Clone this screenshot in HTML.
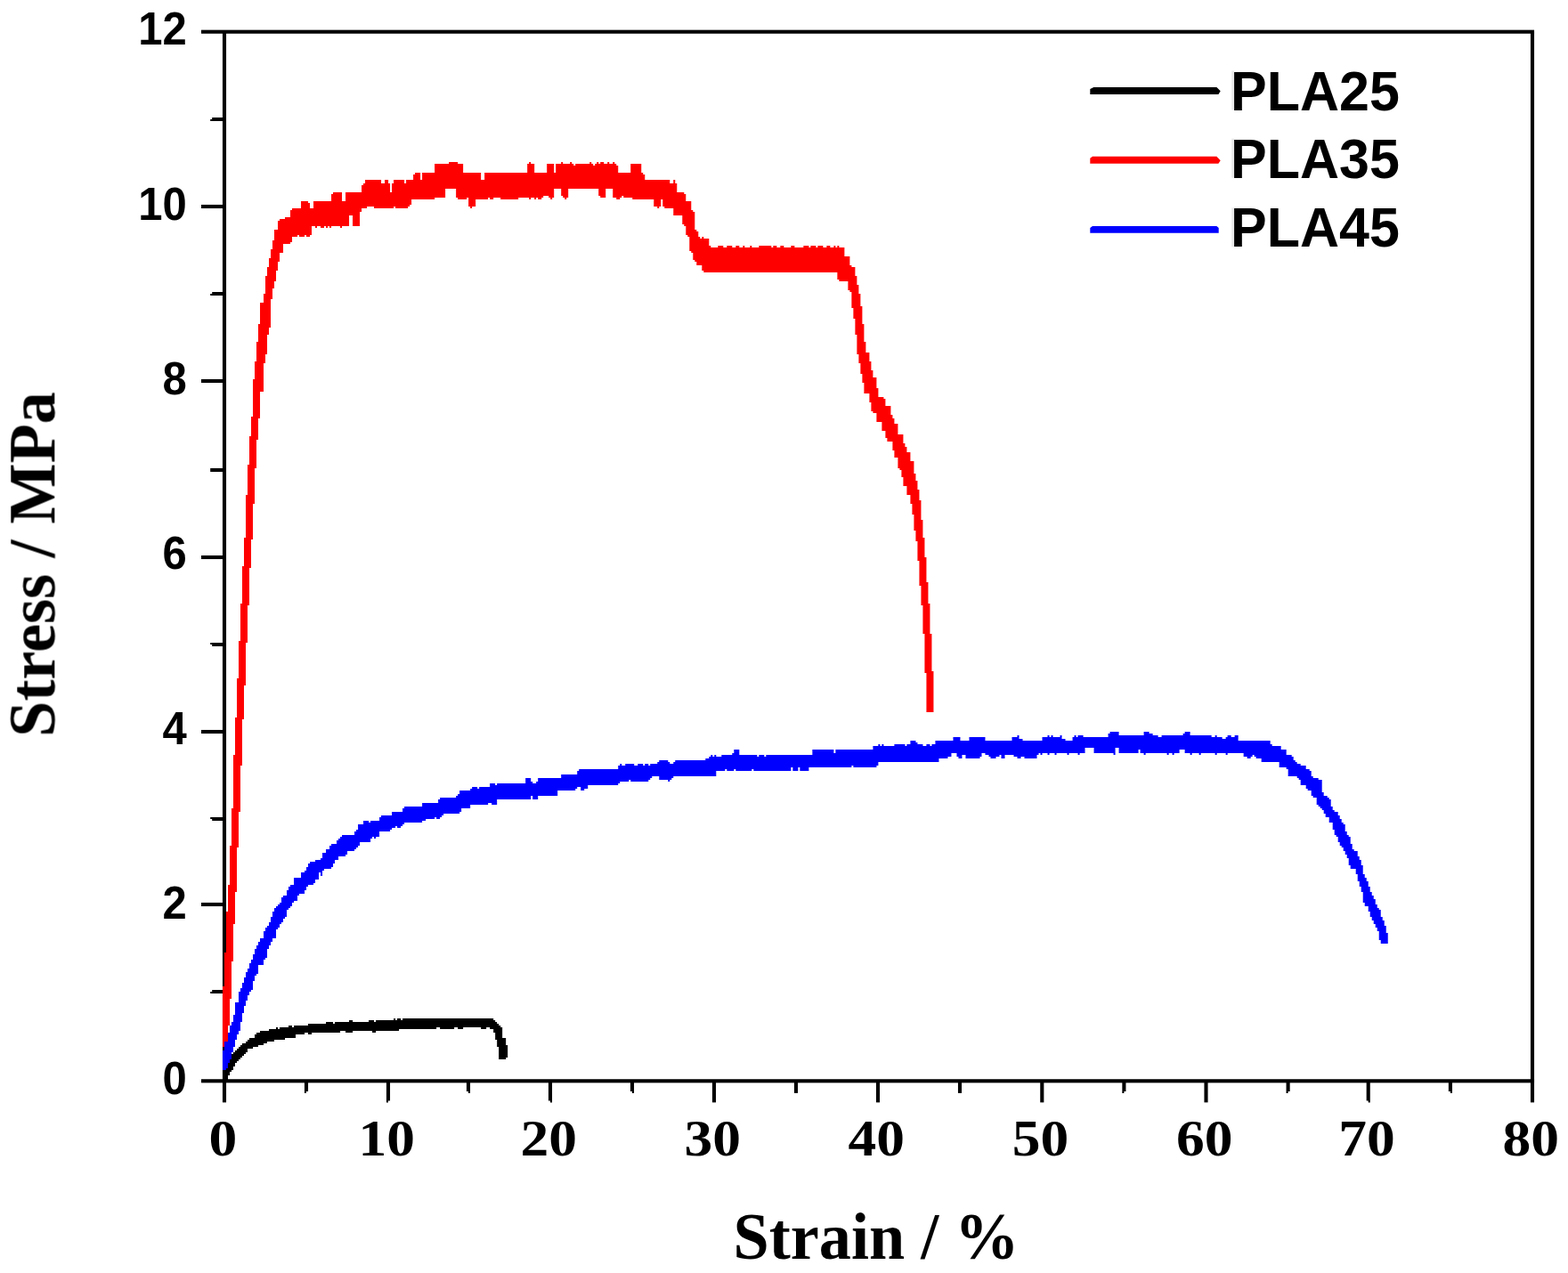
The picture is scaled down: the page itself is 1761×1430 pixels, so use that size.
<!DOCTYPE html>
<html lang="en">
<head>
<meta charset="utf-8">
<title>Stress-strain curves of PLA25, PLA35 and PLA45</title>
<style>
html,body{margin:0;padding:0;background:#fff;}
body{width:1761px;height:1430px;overflow:hidden;}
svg{display:block;}
.sb{font-family:"Liberation Sans",sans-serif;font-weight:bold;fill:#000;}
.tb{font-family:"Liberation Serif",serif;font-weight:bold;fill:#000;}
</style>
</head>
<body>
<svg width="1761" height="1430" viewBox="0 0 1761 1430" role="img" aria-label="Stress (MPa) versus strain (%) curves for PLA25, PLA35 and PLA45">
<defs>
<filter id="soft" x="0" y="0" width="1761" height="1430" filterUnits="userSpaceOnUse"><feGaussianBlur stdDeviation="0.4"/></filter>
<filter id="softtext" x="0" y="0" width="1761" height="1430" filterUnits="userSpaceOnUse"><feGaussianBlur stdDeviation="0.55"/></filter>
</defs>
<rect width="1761" height="1430" fill="#ffffff"/>
<g id="axes" filter="url(#soft)">
<rect x="249.95" y="35.70" width="4.10" height="1178.60" fill="#000"/>
<rect x="1718.95" y="35.70" width="4.10" height="1178.60" fill="#000"/>
<rect x="226.00" y="33.65" width="1497.05" height="4.10" fill="#000"/>
<rect x="226.00" y="1212.25" width="1497.05" height="4.10" fill="#000"/>
<polygon fill="#000" points="236.20,1114.00 238.20,1114.00 238.20,1111.95 251.00,1111.95 251.00,1116.05 236.20,1116.05"/>
<rect x="226.00" y="1013.95" width="25.00" height="4.10" fill="#000"/>
<polygon fill="#000" points="236.20,917.95 251.00,917.95 251.00,922.05 238.20,922.05 238.20,920.00 236.20,920.00"/>
<rect x="226.00" y="819.95" width="25.00" height="4.10" fill="#000"/>
<polygon fill="#000" points="236.20,721.95 251.00,721.95 251.00,726.05 238.20,726.05 238.20,724.00 236.20,724.00"/>
<rect x="226.00" y="623.95" width="25.00" height="4.10" fill="#000"/>
<rect x="236.20" y="525.95" width="14.80" height="4.10" fill="#000"/>
<rect x="226.00" y="425.95" width="25.00" height="4.10" fill="#000"/>
<polygon fill="#000" points="236.20,330.00 238.20,330.00 238.20,327.95 251.00,327.95 251.00,332.05 236.20,332.05"/>
<rect x="226.00" y="229.95" width="25.00" height="4.10" fill="#000"/>
<polygon fill="#000" points="236.20,134.00 238.20,134.00 238.20,131.95 251.00,131.95 251.00,136.05 236.20,136.05"/>
<rect x="249.95" y="1214.30" width="4.10" height="24.10" fill="#000"/>
<polygon fill="#000" points="341.95,1214.30 346.05,1214.30 346.05,1225.90 344.00,1225.90 344.00,1227.90 341.95,1227.90"/>
<polygon fill="#000" points="433.95,1214.30 438.05,1214.30 438.05,1236.40 436.00,1236.40 436.00,1238.40 433.95,1238.40"/>
<polygon fill="#000" points="523.95,1214.30 528.05,1214.30 528.05,1227.90 526.00,1227.90 526.00,1225.90 523.95,1225.90"/>
<polygon fill="#000" points="615.95,1214.30 620.05,1214.30 620.05,1238.40 618.00,1238.40 618.00,1236.40 615.95,1236.40"/>
<polygon fill="#000" points="707.95,1214.30 712.05,1214.30 712.05,1227.90 710.00,1227.90 710.00,1225.90 707.95,1225.90"/>
<rect x="799.95" y="1214.30" width="4.10" height="24.10" fill="#000"/>
<rect x="891.95" y="1214.30" width="4.10" height="13.60" fill="#000"/>
<rect x="983.95" y="1214.30" width="4.10" height="24.10" fill="#000"/>
<rect x="1075.95" y="1214.30" width="4.10" height="13.60" fill="#000"/>
<rect x="1168.25" y="1214.30" width="4.10" height="24.10" fill="#000"/>
<polygon fill="#000" points="1260.35,1214.30 1264.45,1214.30 1264.45,1225.90 1262.40,1225.90 1262.40,1227.90 1260.35,1227.90"/>
<rect x="1352.45" y="1214.30" width="4.10" height="24.10" fill="#000"/>
<polygon fill="#000" points="1444.55,1214.30 1448.65,1214.30 1448.65,1225.90 1446.60,1225.90 1446.60,1227.90 1444.55,1227.90"/>
<polygon fill="#000" points="1534.65,1214.30 1538.75,1214.30 1538.75,1238.40 1536.70,1238.40 1536.70,1236.40 1534.65,1236.40"/>
<polygon fill="#000" points="1626.85,1214.30 1630.95,1214.30 1630.95,1227.90 1628.90,1227.90 1628.90,1225.90 1626.85,1225.90"/>
<rect x="1718.95" y="1214.30" width="4.10" height="24.10" fill="#000"/>
</g>
<g id="curves">
<g filter="url(#soft)">
<path fill="#ff0000" d="M504.14,182H514.14V184H520.15V194H540.16V202H544.16V194H592.19V184H594.19V182H596.19V184H600.19V194H614.2V184H622.2V194H624.2V184H630.21V182H632.21V184H640.21V182H642.21V184H644.22V186H646.22V184H662.23V182H664.23V184H666.23V186H668.23V184H670.23V182H672.23V184H674.23V182H678.24V184H682.24V182H684.24V184H688.24V182H690.24V184H692.24V186H694.24V194H708.25V184H720.26V194H722.26V196H724.26V202H752.28V206H756.28V202H758.28V206H760.28V216H768.29V218H770.29V226H776.29V236H778.29V238H780.29V258H782.29V260H784.3V266H786.3V268H788.3V266H790.3V268H796.3V276H798.3V278H806.31V276H812.31V278H816.31V276H822.32V278H826.32V276H830.32V278H834.32V276H836.32V278H842.33V276H844.33V278H852.33V276H866.34V278H868.34V276H872.35V278H876.35V276H880.35V278H888.35V276H892.36V278H902.36V276H908.37V278H910.37V276H916.37V278H918.37V276H924.38V278H928.38V276H932.38V278H936.38V276H938.38V278H940.38V276H942.39V278H948.39V288H954.39V298H956.39V300H960.4V310H962.4V320H964.4V330H966.4V344H968.4V364H970.4V384H972.4V396H976.4V406H978.41V416H980.41V424H984.41V436H986.41V446H992.41V448H994.41V456H1000.42V466H1002.42V470H1004.42V476H1008.42V488H1014.43V498H1016.43V502H1018.43V508H1022.43V518H1026.43V532H1028.43V540H1030.44V550H1032.44V562H1034.44V584H1036.44V604H1038.44V626H1040.44V654H1042.44V678H1044.44V712H1046.44V754H1048.45V800H1040.44V756H1038.44V712H1036.44V680H1034.44V658H1032.44V630H1030.44V608H1028.43V596H1026.43V578H1024.43V566H1022.43V556H1018.43V546H1014.43V536H1012.42V528H1010.42V526H1008.42V514H1004.42V506H1002.42V496H996.42V492H994.41V484H990.41V474H984.41V464H980.41V462H978.41V452H976.4V442H970.4V430H968.4V420H966.4V408H964.4V398H962.4V376H960.4V358H958.39V346H956.39V328H954.39V326H952.39V316H942.39V314H940.38V306H790.3V304H788.3V298H782.29V294H780.29V292H778.29V284H776.29V282H774.29V266H772.29V264H770.29V254H768.29V252H766.29V242H756.28V234H746.27V232H744.27V224H742.27V232H740.27V234H738.27V232H734.27V224H710.25V222H700.25V220H698.25V222H696.25V224H692.24V222H688.24V212H680.24V222H674.23V220H672.23V212H638.21V222H636.21V224H634.21V222H632.21V220H630.21V212H622.2V222H620.2V224H618.2V222H616.2V220H610.2V222H608.2V224H604.19V222H602.19V224H600.19V222H596.19V224H594.19V222H582.18V224H562.17V222H554.16V224H550.16V222H548.16V224H534.15V232H530.15V234H528.15V232H526.15V222H524.15V224H514.14V222H512.14V212H500.13V222H488.13V224H462.11V230H460.11V232H458.11V234H444.1V232H442.1V234H420.09V232H412.08V234H406.08V238H404.08V254H396.07V242H392.07V254H384.07V256H382.07V254H372.06V256H370.06V254H368.06V256H366.06V254H364.06V256H360.05V254H356.05V256H354.05V254H350.05V264H348.05V266H344.05V264H342.04V266H336.04V264H334.04V266H328.04V272H326.04V274H318.03V284H314.03V294H312.03V304H310.03V316H308.02V324H306.02V336H304.02V368H302.02V376H300.02V398H298.02V408H296.02V440H292.02V470H290.01V494H288.01V526H286.01V566H284.01V606H282.01V638H280.01V680H278.01V722H276.01V770H274.01V808H272V860H270V912H268V952H266V1002H264V1038H262V1080H260V1122H258V1152H256V1170H253.99V1176H249.99V1108H251.99V1070H253.99V1024H256V994H258V950H260V908H262V848H264V806H266V762H268V720H270V678H272V636H274.01V604H276.01V556H278.01V522H280.01V490H282.01V468H284.01V426H286.01V406H288.01V384H290.01V364H292.02V340H296.02V330H298.02V310H300.02V300H302.02V290H304.02V280H306.02V270H308.02V258H312.03V248H314.03V246H320.03V244H326.04V236H328.04V234H338.04V226H346.05V228H348.05V234H352.05V226H372.06V218H374.06V216H384.07V226H388.07V216H406.08V208H408.08V206H410.08V202H428.09V206H432.1V202H436.1V206H438.1V216H440.1V206H442.1V202H454.11V206H456.11V202H464.11V196H466.11V194H472.12V202H474.12V194H488.13V184H504.14Z"/>
<path fill="#0000ff" d="M1246.56,822H1256.56V826H1284.58V822H1290.58V824H1294.59V826H1300.59V828H1304.59V826H1328.6V824H1330.61V822H1336.61V826H1360.62V828H1364.62V826H1366.63V828H1372.63V830H1376.63V828H1378.63V826H1382.64V828H1386.64V826H1390.64V832H1426.66V836H1428.66V838H1438.67V842H1444.67V848H1450.67V850H1452.67V854H1454.68V856H1456.68V858H1460.68V860H1466.68V864H1470.69V866H1472.69V872H1474.69V874H1480.69V876H1484.69V890H1486.69V894H1490.7V896H1492.7V898H1494.7V906H1496.7V910H1498.7V912H1502.7V916H1504.7V920H1506.71V924H1508.71V926H1510.71V934H1512.71V938H1514.71V940H1516.71V948H1518.71V954H1520.71V956H1524.72V962H1526.72V966H1528.72V972H1530.72V982H1532.72V986H1534.72V990H1536.72V996H1538.72V1002H1540.72V1006H1542.73V1010H1544.73V1016H1546.73V1020H1548.73V1022H1550.73V1030H1552.73V1034H1554.73V1040H1556.73V1048H1558.74V1060H1550.73V1056H1548.73V1046H1546.73V1042H1544.73V1038H1542.73V1034H1540.72V1030H1538.72V1024H1536.72V1018H1532.72V1014H1530.72V1002H1528.72V996H1526.72V990H1524.72V982H1522.71V976H1516.71V972H1514.71V964H1512.71V960H1510.71V956H1508.71V952H1506.71V950H1504.7V946H1502.7V940H1500.7V938H1498.7V932H1496.7V924H1492.7V918H1488.7V914H1486.69V910H1484.69V908H1482.69V906H1480.69V904H1478.69V896H1474.69V894H1472.69V888H1468.68V886H1466.68V882H1460.68V876H1458.68V874H1456.68V872H1446.67V864H1444.67V862H1436.67V856H1416.65V852H1410.65V850H1408.65V848H1406.65V850H1404.65V852H1400.65V850H1396.64V846H1378.63V848H1376.63V846H1366.63V848H1364.62V846H1348.62V848H1346.61V846H1338.61V848H1336.61V846H1330.61V842H1324.6V846H1318.6V848H1316.6V846H1312.6V848H1310.59V846H1286.58V848H1284.58V846H1280.58V842H1278.58V846H1256.56V840H1252.56V848H1250.56V846H1228.55V840H1218.54V846H1212.54V848H1210.54V846H1200.53V848H1198.53V846H1186.52V848H1184.52V846H1178.52V848H1176.52V846H1170.51V848H1168.51V846H1166.51V848H1164.51V852H1150.5V850H1146.5V852H1142.5V850H1138.5V848H1128.49V852H1124.49V848H1122.49V850H1118.49V852H1112.48V850H1110.48V848H1106.48V846H1102.48V850H1100.47V852H1084.47V848H1080.46V852H1076.46V850H1074.46V846H1068.46V850H1064.45V852H1054.45V856H986.41V860H984.41V862H958.39V860H956.39V862H908.37V866H898.36V862H896.36V866H890.36V862H888.35V866H846.33V864H844.33V866H826.32V864H824.32V866H816.31V864H814.31V866H804.31V872H756.28V874H754.28V876H752.28V878H750.28V876H740.27V872H732.27V874H730.26V876H728.26V878H708.25V876H706.25V878H696.25V880H694.24V882H660.23V886H656.22V888H652.22V884H648.22V886H646.22V888H626.21V894H604.19V898H598.19V894H596.19V898H558.17V904H552.16V902H548.16V904H528.15V908H518.14V912H516.14V914H498.13V916H496.13V918H494.13V920H490.13V918H488.13V920H478.12V922H474.12V924H454.11V926H452.11V928H450.11V930H446.1V928H444.1V930H440.1V932H438.1V934H426.09V940H422.09V942H420.09V940H418.09V942H416.09V946H404.08V950H402.08V952H400.08V954H398.08V956H390.07V960H388.07V962H380.07V966H376.06V970H374.06V974H372.06V976H364.06V978H362.06V984H360.05V980H358.05V988H354.05V992H352.05V994H346.05V996H344.05V1000H342.04V1004H336.04V1006H334.04V1012H330.04V1014H328.04V1018H326.04V1020H324.03V1022H322.03V1030H320.03V1032H318.03V1036H316.03V1038H314.03V1042H312.03V1044H310.03V1054H306.02V1058H304.02V1062H302.02V1066H300.02V1076H298.02V1078H296.02V1084H290.01V1094H288.01V1096H286.01V1102H284.01V1112H282.01V1114H280.01V1118H278.01V1124H276.01V1130H274.01V1138H272V1148H270V1158H268V1162H266V1168H264V1176H262V1182H260V1190H258V1196H256V1204H249.99V1180H251.99V1170H256V1160H258V1152H260V1148H262V1140H264V1126H268V1114H270V1110H272V1104H274.01V1098H276.01V1092H278.01V1088H280.01V1082H282.01V1078H284.01V1072H286.01V1066H288.01V1062H290.01V1058H292.02V1054H296.02V1046H298.02V1042H300.02V1040H302.02V1036H304.02V1030H306.02V1024H308.02V1020H310.03V1018H312.03V1016H314.03V1014H316.03V1008H318.03V1006H322.03V1000H324.03V996H326.04V994H330.04V986H338.04V980H342.04V978H344.05V974H346.05V970H348.05V968H354.05V966H360.05V964H362.06V958H366.06V954H370.06V950H372.06V948H378.06V944H380.07V942H382.07V940H384.07V938H398.08V934H400.08V932H402.08V926H408.08V922H414.09V924H416.09V922H426.09V918H428.09V916H440.1V912H452.11V908H454.11V906H474.12V902H492.13V898H494.13V896H512.14V894H514.14V892H516.14V888H528.15V886H530.15V884H536.15V886H538.16V884H550.16V880H556.17V882H558.17V880H590.19V874H596.19V878H598.19V880H602.19V878H604.19V874H630.21V870H648.22V866H650.22V864H694.24V860H696.25V858H698.25V860H702.25V858H712.25V860H716.26V858H722.26V860H724.26V858H728.26V860H730.26V858H738.27V856H740.27V854H750.28V856H752.28V858H756.28V856H758.28V854H792.3V852H796.3V850H798.3V848H800.3V850H802.31V848H804.31V850H810.31V848H822.32V846H824.32V842H830.32V848H850.33V850H852.33V848H858.34V850H860.34V848H912.37V842H936.38V846H938.38V842H980.41V838H986.41V836H988.41V838H990.41V836H992.41V838H1004.42V836H1016.43V838H1018.43V836H1022.43V832H1028.43V834H1030.44V836H1036.44V838H1040.44V836H1044.44V838H1046.44V836H1050.45V832H1070.46V828H1078.46V832H1088.47V828H1106.48V832H1136.5V828H1142.5V826H1144.5V830H1148.5V832H1170.51V828H1176.52V826H1178.52V828H1180.52V826H1182.52V828H1190.53V826H1192.53V830H1196.53V832H1204.53V828H1206.54V826H1208.54V828H1210.54V826H1216.54V828H1244.56V824H1246.56Z"/>
<path fill="#000000" d="M442.1,1144H444.1V1146H446.1V1144H450.11V1146H452.11V1144H554.16V1146H556.17V1148H558.17V1150H560.17V1152H562.17V1154H564.17V1166H568.17V1174H570.17V1188H568.17V1190H560.17V1176H558.17V1168H556.17V1160H554.16V1156H550.16V1154H546.16V1156H540.16V1154H520.15V1156H514.14V1154H510.14V1156H494.13V1154H490.13V1156H448.1V1158H422.09V1160H418.09V1158H396.07V1160H388.07V1158H382.07V1160H350.05V1162H346.05V1160H342.04V1162H332.04V1166H320.03V1168H308.02V1170H300.02V1172H296.02V1174H290.01V1176H284.01V1178H278.01V1182H276.01V1184H274.01V1186H272V1188H270V1190H268V1192H266V1194H264V1198H262V1202H260V1204H258V1208H256V1214H249.99V1202H253.99V1200H256V1194H258V1190H260V1184H262V1182H264V1180H266V1178H268V1176H270V1174H272V1172H276.01V1170H278.01V1168H280.01V1166H286.01V1162H288.01V1160H292.02V1158H302.02V1156H310.03V1154H312.03V1156H314.03V1154H324.03V1152H328.04V1154H330.04V1152H346.05V1150H366.06V1148H374.06V1150H376.06V1148H392.07V1146H396.07V1148H414.09V1146H420.09V1148H422.09V1146H442.1Z"/>
</g>
</g>
<g id="legend-lines">
<polygon fill="#000000" points="1224.3,99.9 1228.3,97.9 1366.4,97.9 1370.7,102.3 1368.4,105.9 1224.3,105.9"/>
<rect x="1383.20" y="79.50" width="3.00" height="44.00" fill="#e9e9e9"/>
<polygon fill="#ff0000" points="1224.3,177.8 1227.0,175.8 1366.4,175.8 1370.7,180.2 1368.4,183.8 1224.3,183.8"/>
<rect x="1383.20" y="155.70" width="3.00" height="44.00" fill="#e9e9e9"/>
<polygon fill="#0000ff" points="1224.3,256.0 1227.0,254.0 1366.4,254.0 1368.7,256.0 1368.7,261.8 1224.3,261.8"/>
<rect x="1383.20" y="233.40" width="3.00" height="44.00" fill="#e9e9e9"/>
</g>
<g id="labels" filter="url(#softtext)">
<text class="sb" transform="translate(209.80,1228.70) scale(1.0,1.05)" font-size="49.0" text-anchor="end">0</text>
<text class="sb" transform="translate(209.80,1032.27) scale(1.0,1.05)" font-size="49.0" text-anchor="end">2</text>
<text class="sb" transform="translate(209.80,835.83) scale(1.0,1.05)" font-size="49.0" text-anchor="end">4</text>
<text class="sb" transform="translate(209.80,639.40) scale(1.0,1.05)" font-size="49.0" text-anchor="end">6</text>
<text class="sb" transform="translate(209.80,442.97) scale(1.0,1.05)" font-size="49.0" text-anchor="end">8</text>
<text class="sb" transform="translate(209.80,246.53) scale(1.0,1.05)" font-size="49.0" text-anchor="end">10</text>
<text class="sb" transform="translate(209.80,50.10) scale(1.0,1.05)" font-size="49.0" text-anchor="end">12</text>
<text class="tb" transform="translate(250.30,1297.70) scale(1.11,1.0)" font-size="57.2" text-anchor="middle">0</text>
<text class="tb" transform="translate(434.30,1297.70) scale(1.11,1.0)" font-size="57.2" text-anchor="middle">10</text>
<text class="tb" transform="translate(616.30,1297.70) scale(1.11,1.0)" font-size="57.2" text-anchor="middle">20</text>
<text class="tb" transform="translate(800.30,1297.70) scale(1.11,1.0)" font-size="57.2" text-anchor="middle">30</text>
<text class="tb" transform="translate(984.30,1297.70) scale(1.11,1.0)" font-size="57.2" text-anchor="middle">40</text>
<text class="tb" transform="translate(1168.60,1297.70) scale(1.11,1.0)" font-size="57.2" text-anchor="middle">50</text>
<text class="tb" transform="translate(1352.80,1297.70) scale(1.11,1.0)" font-size="57.2" text-anchor="middle">60</text>
<text class="tb" transform="translate(1535.00,1297.70) scale(1.11,1.0)" font-size="57.2" text-anchor="middle">70</text>
<text class="tb" transform="translate(1719.30,1297.70) scale(1.11,1.0)" font-size="57.2" text-anchor="middle">80</text>
<text class="tb" transform="translate(984.00,1414.20) scale(0.968,1.0)" font-size="74.6" text-anchor="middle">Strain / %</text>
<text class="tb" transform="translate(61.30,634.00) rotate(-90) scale(0.968,1.0)" font-size="74.6" text-anchor="middle">Stress / MPa</text>
<text class="sb" transform="translate(1382.00,123.50) scale(1.0,1.045)" font-size="61.0" text-anchor="start">PLA25</text>
<text class="sb" transform="translate(1382.00,199.70) scale(1.0,1.045)" font-size="61.0" text-anchor="start">PLA35</text>
<text class="sb" transform="translate(1382.00,277.40) scale(1.0,1.045)" font-size="61.0" text-anchor="start">PLA45</text>
</g>
</svg>
</body>
</html>
